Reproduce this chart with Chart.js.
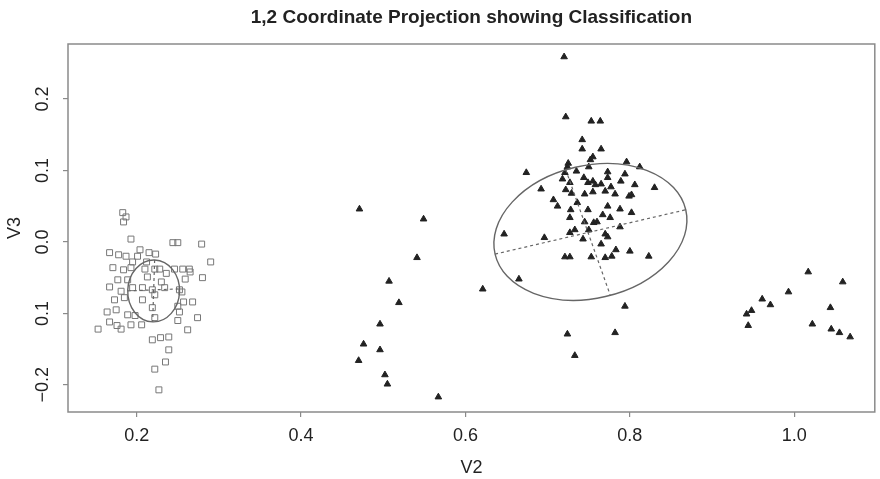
<!DOCTYPE html>
<html>
<head>
<meta charset="utf-8">
<script src="https://cdn.jsdelivr.net/npm/chart.js@4"></script>
<style>
  body { margin: 0; background: #fff; }
  #wrap { width: 880px; height: 479px; position: relative; }
</style>
</head>
<body>
<div id="wrap"><canvas id="projChart"></canvas></div>
<script>
// class 1 (open squares) - V2, V3
const class1V2 = [0.183,0.187,0.184,0.193,0.167,0.178,0.187,0.195,0.201,0.171,0.184,0.193,0.177,0.189,0.167,0.181,0.195,0.173,0.185,0.164,0.175,0.189,0.198,0.176,0.181,0.153,0.167,0.193,
  0.244,0.250,0.279,0.290,0.280,0.215,0.223,0.259,0.257,0.268,0.274,0.262,0.250,0.252,0.219,0.229,0.239,0.239,0.235,0.222,0.227,0.219,0.222,0.255,0.256,0.264,0.265,0.246,0.236,0.228,0.222,0.210,0.213,0.230,0.219,0.234,0.207,0.252,0.222,0.207,0.206,0.250,0.204,0.212];
const class1V3 = [0.041,0.035,0.028,0.004,-0.015,-0.018,-0.020,-0.028,-0.020,-0.036,-0.039,-0.036,-0.053,-0.053,-0.063,-0.069,-0.064,-0.081,-0.078,-0.098,-0.095,-0.102,-0.103,-0.117,-0.122,-0.122,-0.112,-0.116,
  -0.001,-0.001,-0.003,-0.028,-0.050,-0.015,-0.017,-0.052,-0.084,-0.084,-0.106,-0.123,-0.110,-0.098,-0.137,-0.134,-0.133,-0.151,-0.168,-0.178,-0.207,-0.092,-0.106,-0.070,-0.038,-0.038,-0.042,-0.038,-0.044,-0.038,-0.038,-0.038,-0.049,-0.056,-0.067,-0.064,-0.064,-0.067,-0.074,-0.081,-0.116,-0.090,-0.011,-0.028];

// class 2 (filled triangles) - V2, V3
const class2V2 = [0.720,0.722,0.753,0.764,0.742,0.742,0.765,0.755,0.752,0.725,0.724,0.750,0.796,0.812,0.674,0.721,0.735,0.773,0.794,0.718,0.744,0.773,0.789,0.727,0.749,0.755,0.758,0.765,0.777,0.692,0.722,0.806,0.830,0.729,0.745,0.755,0.770,0.782,0.799,0.802,0.707,0.736,0.712,0.773,0.728,0.749,0.788,0.767,0.802,
  0.776,0.760,0.756,0.745,0.788,0.727,0.750,0.733,0.727,0.770,0.773,0.743,0.765,0.721,0.727,0.753,0.770,0.778,0.783,0.800,0.823,0.794,0.724,0.782,0.733,0.647,0.696,0.665,
  0.471,0.549,0.541,0.507,0.519,0.496,0.476,0.496,0.470,0.502,0.505,0.567,0.621,
  1.017,1.059,0.993,0.961,0.971,0.948,0.942,0.944,1.044,1.022,1.045,1.055,1.068];
const class2V3 = [0.259,0.175,0.169,0.169,0.143,0.130,0.130,0.119,0.115,0.110,0.105,0.105,0.112,0.105,0.097,0.097,0.099,0.098,0.095,0.088,0.090,0.090,0.085,0.083,0.083,0.085,0.080,0.081,0.077,0.074,0.073,0.080,0.076,0.068,0.067,0.070,0.071,0.067,0.064,0.066,0.059,0.055,0.050,0.050,0.045,0.045,0.046,0.038,0.041,
  0.034,0.028,0.027,0.028,0.021,0.034,0.017,0.017,0.013,0.011,0.007,0.004,-0.003,-0.021,-0.021,-0.021,-0.022,-0.020,-0.011,-0.013,-0.020,-0.090,-0.129,-0.127,-0.159,0.011,0.006,-0.052,
  0.046,0.032,-0.022,-0.055,-0.085,-0.115,-0.143,-0.151,-0.166,-0.186,-0.199,-0.217,-0.066,
  -0.042,-0.056,-0.070,-0.080,-0.088,-0.096,-0.101,-0.117,-0.092,-0.115,-0.122,-0.127,-0.133];

// ellipse axes endpoints [V2, V3] for class 1 and class 2
const ellipseMajor = [[[0.2218,-0.0252],[0.2194,-0.1119]], [[0.636,-0.017],[0.868,0.045]]];
const ellipseMinor = [[[0.1891,-0.0685],[0.2521,-0.0657]], [[0.722,0.101],[0.776,-0.074]]];

const xTicks = [0.2, 0.4, 0.6, 0.8, 1.0];
const xTickLabels = ['0.2', '0.4', '0.6', '0.8', '1.0'];
const yTicks = [-0.2, -0.1, 0.0, 0.1, 0.2];
const yTickLabels = ['\u22120.2', '0.1', '0.0', '0.1', '0.2'];

const FONT = '"Liberation Sans", Arial, Helvetica, sans-serif';
const INK = '#222';
const AXIS = '#8a8a8a';

const toPts = (xs, ys) => xs.map((x, i) => ({x: x, y: ys[i]}));

const extras = {
  id: 'extras',
  afterDatasetsDraw(chart) {
    const ctx = chart.ctx, xs = chart.scales.x, ys = chart.scales.y;
    const px = p => [xs.getPixelForValue(p[0]), ys.getPixelForValue(p[1])];
    ctx.save();
    for (let i = 0; i < ellipseMajor.length; i++) {
      const a = px(ellipseMajor[i][0]), b = px(ellipseMajor[i][1]);
      const c = px(ellipseMinor[i][0]), d = px(ellipseMinor[i][1]);
      const cx = (a[0] + b[0]) / 2, cy = (a[1] + b[1]) / 2;
      const rx = Math.hypot(b[0] - a[0], b[1] - a[1]) / 2;
      const ry = Math.hypot(d[0] - c[0], d[1] - c[1]) / 2;
      const rot = Math.atan2(b[1] - a[1], b[0] - a[0]);
      ctx.strokeStyle = '#666';
      ctx.lineWidth = 1.4;
      ctx.setLineDash([]);
      ctx.beginPath();
      ctx.ellipse(cx, cy, rx, ry, rot, 0, Math.PI * 2);
      ctx.stroke();
      ctx.setLineDash([3, 3]);
      ctx.lineWidth = 1.2;
      ctx.beginPath();
      ctx.moveTo(a[0], a[1]); ctx.lineTo(b[0], b[1]);
      ctx.moveTo(c[0], c[1]); ctx.lineTo(d[0], d[1]);
      ctx.stroke();
    }
    ctx.restore();
  },
  afterDraw(chart) {
    const ctx = chart.ctx, area = chart.chartArea, ys = chart.scales.y;
    ctx.save();
    // box
    ctx.strokeStyle = AXIS;
    ctx.lineWidth = 1.5;
    ctx.strokeRect(area.left, area.top, area.right - area.left, area.bottom - area.top);
    ctx.fillStyle = INK;
    // title
    ctx.font = 'bold 19px ' + FONT;
    ctx.textAlign = 'center';
    ctx.textBaseline = 'middle';
    ctx.fillText('1,2 Coordinate Projection showing Classification', (area.left + area.right) / 2, 18);
    // x title
    ctx.font = '18px ' + FONT;
    ctx.fillText('V2', (area.left + area.right) / 2, 468);
    // y tick labels + title, rotated
    yTicks.forEach((v, i) => {
      ctx.save();
      ctx.translate(43, ys.getPixelForValue(v));
      ctx.rotate(-Math.PI / 2);
      ctx.fillText(yTickLabels[i], 0, 0);
      ctx.restore();
    });
    ctx.save();
    ctx.translate(15, (area.top + area.bottom) / 2);
    ctx.rotate(-Math.PI / 2);
    ctx.fillText('V3', 0, 0);
    ctx.restore();
    ctx.restore();
  }
};

new Chart(document.getElementById('projChart'), {
  type: 'scatter',
  data: {
    datasets: [
      {
        label: 'Class 1',
        data: toPts(class1V2, class1V3),
        pointStyle: 'rect',
        pointRadius: 4.2,
        backgroundColor: 'rgba(255,255,255,0)',
        borderColor: '#777',
        borderWidth: 1
      },
      {
        label: 'Class 2',
        data: toPts(class2V2, class2V3),
        pointStyle: 'triangle',
        pointRadius: 3.8,
        backgroundColor: '#222',
        borderColor: '#222',
        borderWidth: 1
      }
    ]
  },
  options: {
    responsive: true,
    maintainAspectRatio: false,
    animation: false,
    layout: { padding: { top: 44, right: 2, left: 0, bottom: 0 } },
    plugins: { legend: { display: false }, tooltip: { enabled: false }, title: { display: false } },
    scales: {
      x: {
        type: 'linear',
        min: 0.1164, max: 1.098,
        afterBuildTicks: s => { s.ticks = xTicks.map(v => ({value: v})); },
        afterFit: s => { s.height = 67; },
        ticks: {
          callback: (v) => xTickLabels[xTicks.indexOf(v)] ?? '',
          font: { family: FONT, size: 18 },
          color: INK,
          padding: 8,
          maxRotation: 0
        },
        grid: { display: true, drawOnChartArea: false, drawTicks: true, tickLength: 5, color: AXIS, lineWidth: 1.2 },
        border: { display: false }
      },
      y: {
        type: 'linear',
        min: -0.238, max: 0.277,
        afterBuildTicks: s => { s.ticks = yTicks.map(v => ({value: v})); },
        afterFit: s => { s.width = 68; },
        ticks: { color: 'rgba(0,0,0,0)', font: { family: FONT, size: 18 } },
        grid: { display: true, drawOnChartArea: false, drawTicks: true, tickLength: 5, color: AXIS, lineWidth: 1.2 },
        border: { display: false }
      }
    }
  },
  plugins: [extras]
});
</script>
</body>
</html>
